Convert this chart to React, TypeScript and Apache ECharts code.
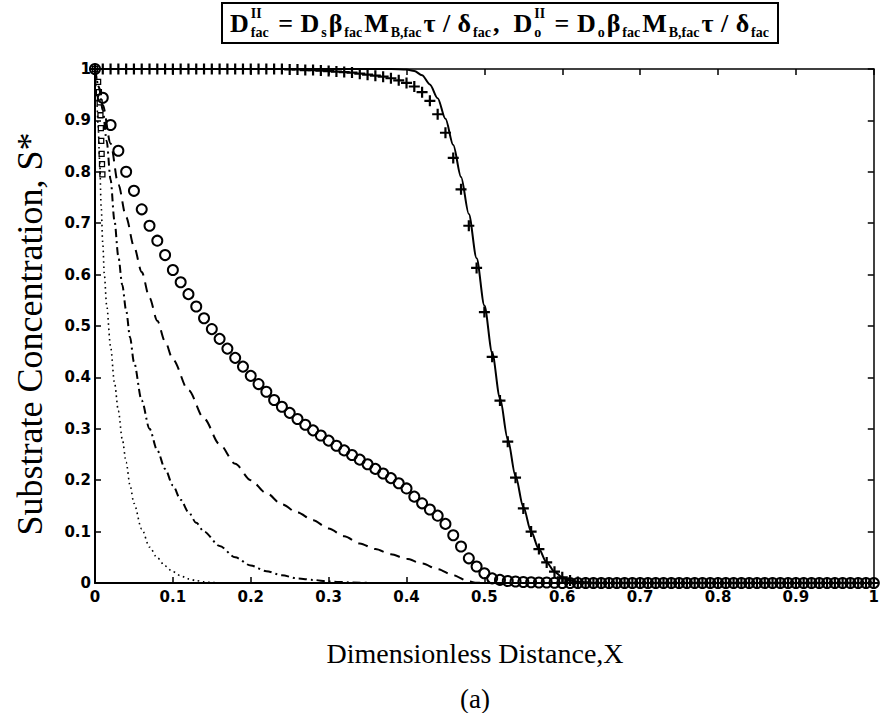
import React, { useEffect, useRef } from "react";
import * as echarts from "echarts";

// ---------- data ----------
const xTickLabels = ["0", "0.1", "0.2", "0.3", "0.4", "0.5", "0.6", "0.7", "0.8", "0.9", "1"];
const yTickLabels = ["0", "0.1", "0.2", "0.3", "0.4", "0.5", "0.6", "0.7", "0.8", "0.9", "1"];

// solid line
const solidX = [0, 0.1, 0.2, 0.3, 0.38, 0.4, 0.41, 0.42, 0.43, 0.44, 0.45, 0.46, 0.47, 0.48, 0.49, 0.5, 0.51, 0.52, 0.53, 0.54, 0.55, 0.56, 0.57, 0.58, 0.59, 0.6, 0.61, 0.62, 0.63, 0.64, 0.7, 0.8, 0.9, 1.0];
const solidY = [1, 1, 1, 1, 1, 0.999, 0.996, 0.988, 0.97, 0.943, 0.903, 0.852, 0.79, 0.718, 0.632, 0.54, 0.448, 0.36, 0.28, 0.208, 0.148, 0.1, 0.066, 0.04, 0.022, 0.011, 0.005, 0.002, 0.001, 0, 0, 0, 0, 0];

// grid of marker positions (0.00 … 1.00)
const markerX = [
  0.0, 0.01, 0.02, 0.03, 0.04, 0.05, 0.06, 0.07, 0.08, 0.09,
  0.1, 0.11, 0.12, 0.13, 0.14, 0.15, 0.16, 0.17, 0.18, 0.19,
  0.2, 0.21, 0.22, 0.23, 0.24, 0.25, 0.26, 0.27, 0.28, 0.29,
  0.3, 0.31, 0.32, 0.33, 0.34, 0.35, 0.36, 0.37, 0.38, 0.39,
  0.4, 0.41, 0.42, 0.43, 0.44, 0.45, 0.46, 0.47, 0.48, 0.49,
  0.5, 0.51, 0.52, 0.53, 0.54, 0.55, 0.56, 0.57, 0.58, 0.59,
  0.6, 0.61, 0.62, 0.63, 0.64, 0.65, 0.66, 0.67, 0.68, 0.69,
  0.7, 0.71, 0.72, 0.73, 0.74, 0.75, 0.76, 0.77, 0.78, 0.79,
  0.8, 0.81, 0.82, 0.83, 0.84, 0.85, 0.86, 0.87, 0.88, 0.89,
  0.9, 0.91, 0.92, 0.93, 0.94, 0.95, 0.96, 0.97, 0.98, 0.99,
  1.0,
];

// "+" markers
const plusY = [
  1, 1, 1, 1, 1, 1, 1, 1, 1, 1,
  1, 1, 1, 1, 1, 1, 1, 1, 1, 1,
  1, 1, 1, 1, 1, 0.999, 0.999, 0.998, 0.998, 0.997,
  0.996, 0.995, 0.994, 0.993, 0.991, 0.989, 0.987, 0.985, 0.982, 0.978,
  0.973, 0.966, 0.955, 0.938, 0.912, 0.876, 0.827, 0.766, 0.695, 0.613,
  0.527, 0.44, 0.355, 0.275, 0.205, 0.145, 0.1, 0.066, 0.04, 0.022,
  0.011, 0.005, 0.002, 0.001, 0, 0, 0, 0, 0, 0,
  0, 0, 0, 0, 0, 0, 0, 0, 0, 0,
  0, 0, 0, 0, 0, 0, 0, 0, 0, 0,
  0, 0, 0, 0, 0, 0, 0, 0, 0, 0,
  0,
];

// "o" markers
const circleY = [
  1, 0.944, 0.891, 0.841, 0.8, 0.763, 0.727, 0.695, 0.666, 0.638,
  0.609, 0.585, 0.562, 0.538, 0.515, 0.494, 0.475, 0.456, 0.438, 0.421,
  0.403, 0.387, 0.372, 0.356, 0.343, 0.331, 0.319, 0.308, 0.297, 0.287,
  0.277, 0.267, 0.258, 0.249, 0.24, 0.231, 0.222, 0.213, 0.204, 0.194,
  0.184, 0.168, 0.155, 0.143, 0.131, 0.115, 0.093, 0.071, 0.048, 0.032,
  0.019, 0.009, 0.006, 0.004, 0.003, 0.002, 0.0015, 0.001, 0.001, 0.0005,
  0, 0, 0, 0, 0, 0, 0, 0, 0, 0,
  0, 0, 0, 0, 0, 0, 0, 0, 0, 0,
  0, 0, 0, 0, 0, 0, 0, 0, 0, 0,
  0, 0, 0, 0, 0, 0, 0, 0, 0, 0,
  0,
];

// small squares near X = 0
const squareX = [0, 0.004, 0.005, 0.006, 0.007, 0.0075, 0.008, 0.0085, 0.009, 0.0095];
const squareY = [1, 0.975, 0.955, 0.935, 0.91, 0.885, 0.86, 0.835, 0.815, 0.795];

// dashed line
const dashX = [0, 0.005, 0.01, 0.02, 0.03, 0.04, 0.05, 0.06, 0.07, 0.08, 0.09, 0.1, 0.12, 0.14, 0.16, 0.18, 0.2, 0.22, 0.24, 0.26, 0.28, 0.3, 0.32, 0.34, 0.36, 0.38, 0.4, 0.42, 0.44, 0.46, 0.48, 0.49, 0.5, 0.6, 1];
const dashY = [1, 0.965, 0.93, 0.855, 0.775, 0.712, 0.655, 0.605, 0.555, 0.51, 0.47, 0.435, 0.375, 0.32, 0.27, 0.232, 0.2, 0.175, 0.153, 0.137, 0.122, 0.106, 0.091, 0.077, 0.066, 0.056, 0.047, 0.038, 0.027, 0.015, 0.003, 0.0005, 0, 0, 0];

// dash-dot line
const dashDotX = [0, 0.005, 0.01, 0.015, 0.02, 0.025, 0.03, 0.035, 0.04, 0.045, 0.05, 0.06, 0.07, 0.08, 0.09, 0.1, 0.11, 0.12, 0.13, 0.14, 0.16, 0.18, 0.2, 0.22, 0.24, 0.26, 0.28, 0.3, 0.33, 0.36, 0.5, 1];
const dashDotY = [1, 0.965, 0.92, 0.86, 0.785, 0.705, 0.635, 0.58, 0.53, 0.478, 0.43, 0.355, 0.3, 0.258, 0.222, 0.19, 0.162, 0.138, 0.117, 0.1, 0.072, 0.05, 0.034, 0.023, 0.015, 0.009, 0.006, 0.003, 0.001, 0, 0, 0];

// dotted line
const dotX = [0, 0.002, 0.004, 0.006, 0.008, 0.01, 0.012, 0.015, 0.02, 0.025, 0.03, 0.035, 0.04, 0.045, 0.05, 0.06, 0.07, 0.08, 0.09, 0.1, 0.11, 0.12, 0.13, 0.14, 0.15, 0.16, 0.3, 0.6, 1];
const dotY = [1, 0.95, 0.89, 0.82, 0.73, 0.66, 0.6, 0.54, 0.46, 0.39, 0.335, 0.28, 0.235, 0.19, 0.155, 0.105, 0.07, 0.049, 0.033, 0.022, 0.014, 0.008, 0.0045, 0.0022, 0.001, 0, 0, 0, 0];

const xTitle = "Dimensionless Distance,X";
const yTitle = "Substrate Concentration, S*";
const caption = "(a)";

// title formula tokens: [text, kind]  m = main, b = subscript, s = stacked "sup|sub"
const titleTokens: [string, string][] = [
  ["D", "m"], ["II|fac", "s"], [" = ", "m"], ["D", "m"], ["s", "b"], ["β", "m"], ["fac", "b"],
  ["M", "m"], ["B,fac", "b"], ["τ", "m"], [" / ", "m"], ["δ", "m"], ["fac", "b"], [",  ", "m"],
  ["D", "m"], ["II|o", "s"], [" = ", "m"], ["D", "m"], ["o", "b"], ["β", "m"], ["fac", "b"],
  ["M", "m"], ["B,fac", "b"], ["τ", "m"], [" / ", "m"], ["δ", "m"], ["fac", "b"],
];

const zip = (xs: number[], ys: number[]) => xs.map((x, i) => [x, ys[i]]);

const PLUS = "path://M4,0 L6,0 L6,4 L10,4 L10,6 L6,6 L6,10 L4,10 L4,6 L0,6 L0,4 L4,4 Z";

const MAIN_FONT = 'bold 26px "Liberation Serif"';
const SUB_FONT = 'bold 14px "Liberation Serif"';

function buildTitle(): any[] {
  const ctx = document.createElement("canvas").getContext("2d")!;
  const measure = (t: string, f: string) => {
    ctx.font = f;
    return ctx.measureText(t).width;
  };
  const widths = titleTokens.map(([t, k]) => {
    if (k === "m") return measure(t, MAIN_FONT);
    if (k === "b") return measure(t, SUB_FONT) + 2;
    const [p, b] = t.split("|");
    return Math.max(measure(p, SUB_FONT), measure(b, SUB_FONT)) + 3;
  });
  const target = 540;
  const total = widths.reduce((a, b) => a + b, 0);
  let gap = (target - total) / (titleTokens.length - 1);
  gap = Math.max(-1, Math.min(4, gap));
  const full = total + gap * (titleTokens.length - 1);
  let x = 500 - full / 2;
  const out: any[] = [];
  const mk = (text: string, xx: number, y: number, font: string) => ({
    type: "text", x: xx, y, z: 10,
    style: { text, fill: "#000", font, textAlign: "left", textVerticalAlign: "middle", verticalAlign: "middle" },
  });
  titleTokens.forEach(([t, k], i) => {
    if (k === "m") out.push(mk(t, x, 23, MAIN_FONT));
    else if (k === "b") out.push(mk(t, x + 1, 32, SUB_FONT));
    else {
      const [p, b] = t.split("|");
      out.push(mk(p, x + 1, 13, SUB_FONT));
      out.push(mk(b, x + 1, 32, SUB_FONT));
    }
    x += widths[i] + gap;
  });
  return out;
}

export default function App() {
  const ref = useRef<HTMLDivElement>(null);
  useEffect(() => {
    if (!ref.current) return;
    const chart = echarts.init(ref.current, null, { renderer: "svg" });

    const axisLabelStyle = {
      color: "#000",
      fontFamily: "DejaVu Sans",
      fontWeight: "bold",
      fontSize: 15,
    };

    const option: any = {
      animation: false,
      backgroundColor: "#fff",
      grid: { left: 95, right: 4, top: 69, bottom: 130, containLabel: false },
      xAxis: [
        {
          type: "value", min: 0, max: 1, interval: 0.1, position: "bottom",
          axisLine: { show: true, onZero: false, lineStyle: { color: "#000", width: 2 } },
          axisTick: { show: true, inside: true, length: 6, lineStyle: { color: "#000", width: 1.5 } },
          axisLabel: { ...axisLabelStyle, margin: 6, formatter: (v: number) => xTickLabels[Math.round(v * 10)] },
          splitLine: { show: false },
        },
        {
          type: "value", min: 0, max: 1, interval: 0.1, position: "top",
          axisLine: { show: true, onZero: false, lineStyle: { color: "#000", width: 1.5 } },
          axisTick: { show: true, inside: true, length: 6, lineStyle: { color: "#000", width: 1.5 } },
          axisLabel: { show: false },
          splitLine: { show: false },
        },
      ],
      yAxis: [
        {
          type: "value", min: 0, max: 1, interval: 0.1, position: "left",
          axisLine: { show: true, onZero: false, lineStyle: { color: "#000", width: 2 } },
          axisTick: { show: true, inside: true, length: 6, lineStyle: { color: "#000", width: 1.5 } },
          axisLabel: { ...axisLabelStyle, margin: 4, formatter: (v: number) => yTickLabels[Math.round(v * 10)] },
          splitLine: { show: false },
        },
        {
          type: "value", min: 0, max: 1, interval: 0.1, position: "right",
          axisLine: { show: true, onZero: false, lineStyle: { color: "#000", width: 1.5 } },
          axisTick: { show: true, inside: true, length: 6, lineStyle: { color: "#000", width: 1.5 } },
          axisLabel: { show: false },
          splitLine: { show: false },
        },
      ],
      series: [
        {
          type: "line", data: zip(dotX, dotY), showSymbol: false, smooth: 0.3, smoothMonotone: "x",
          lineStyle: { color: "#000", width: 1.6, type: [1.6, 3.6] },
        },
        {
          type: "line", data: zip(dashDotX, dashDotY), showSymbol: false, smooth: 0.3, smoothMonotone: "x",
          lineStyle: { color: "#000", width: 2, type: [8, 4, 2, 4] },
        },
        {
          type: "line", data: zip(dashX, dashY), showSymbol: false, smooth: 0.3, smoothMonotone: "x",
          lineStyle: { color: "#000", width: 2, type: [10, 7] },
        },
        {
          type: "line", data: zip(solidX, solidY), showSymbol: false, smooth: 0.3, smoothMonotone: "x",
          lineStyle: { color: "#000", width: 2 },
        },
        {
          type: "scatter", data: zip(markerX, plusY), symbol: PLUS, symbolSize: 11,
          itemStyle: { color: "#000", opacity: 1 },
        },
        {
          type: "scatter", data: zip(markerX, circleY), symbol: "circle", symbolSize: 10,
          itemStyle: { color: "rgba(0,0,0,0)", borderColor: "#000", borderWidth: 2, opacity: 1 },
        },
        {
          type: "scatter", data: zip(squareX, squareY), symbol: "rect", symbolSize: 5,
          itemStyle: { color: "rgba(0,0,0,0)", borderColor: "#000", borderWidth: 1.3, opacity: 1 },
        },
      ],
      graphic: [
        {
          type: "rect", z: 5,
          shape: { x: 222, y: 3, width: 556, height: 40 },
          style: { fill: "#fff", stroke: "#000", lineWidth: 2 },
        },
        ...buildTitle(),
        {
          type: "text", x: 475, y: 653,
          style: { text: xTitle, fill: "#000", font: '28px "Liberation Serif"', textAlign: "center", textVerticalAlign: "middle", verticalAlign: "middle" },
        },
        {
          type: "text", x: 475, y: 699,
          style: { text: caption, fill: "#000", font: '27px "Liberation Serif"', textAlign: "center", textVerticalAlign: "middle", verticalAlign: "middle" },
        },
        {
          type: "text", x: 30, y: 334, rotation: Math.PI / 2,
          style: { text: yTitle, fill: "#000", font: '36px "Liberation Serif"', textAlign: "center", textVerticalAlign: "middle", verticalAlign: "middle" },
        },
      ],
    };

    chart.setOption(option);
    return () => chart.dispose();
  }, []);

  return <div ref={ref} style={{ position: "fixed", left: 0, top: 0, width: 882, height: 713 }} />;
}
